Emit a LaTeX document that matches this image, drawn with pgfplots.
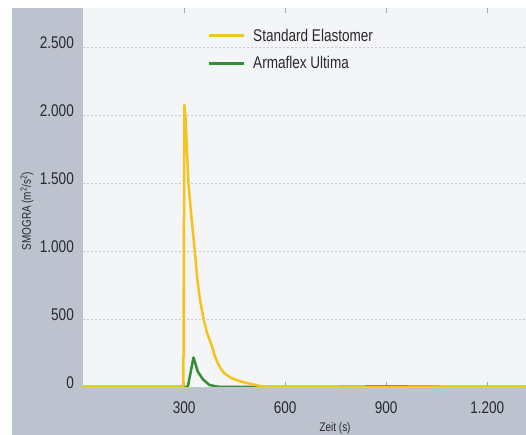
\documentclass[border=0pt]{standalone}
\usepackage{pgfplots}
\pgfplotsset{compat=1.18}
\usepackage{fontspec}
\setmainfont{Liberation Sans}[FakeStretch=0.8]
\definecolor{bggray}{RGB}{189,195,206}
\definecolor{plotbg}{RGB}{244,245,247}
\definecolor{gold}{RGB}{245,196,28}
\definecolor{leafgreen}{RGB}{52,142,52}
\definecolor{gridgray}{RGB}{200,202,206}
\definecolor{tickgray}{RGB}{165,168,175}
\definecolor{txt}{RGB}{40,40,45}
\begin{document}
\begin{tikzpicture}
\useasboundingbox (0,0) rectangle (526bp,435bp);
\fill[white] (0,0) rectangle (526bp,435bp);
\fill[bggray] (12bp,0) rectangle (526bp,427bp);
\begin{axis}[
  at={(83bp,48bp)}, anchor=south west,
  scale only axis, width=443bp, height=379bp,
  xmin=0, xmax=1315, ymin=0, ymax=2795,
  axis background/.style={fill=plotbg},
  axis line style={draw=none},
  xtick={300,600,900,1200},
  ytick={0,500,1000,1500,2000,2500},
  tick align=inside,
  major tick length=5bp,
  x tick style={draw=tickgray, line width=0.8bp},
  y tick style={draw=none},
  ymajorgrids,
  grid style={draw=gridgray, line width=1bp, dash pattern=on 1.5bp off 2.5bp},
  /pgf/number format/.cd, 1000 sep={.}, assume math mode=true,
  /pgfplots/.cd,
  tick label style={font=\fontsize{17}{18}\selectfont, text=txt},
  yticklabel style={anchor=base east, inner sep=0pt, xshift=-9bp, yshift=-1bp},
  xticklabel style={anchor=base, inner sep=0pt, yshift=-26bp},
  xlabel={Zeit (s)},
  ylabel={SMOGRA (m\textsuperscript{2}/s\textsuperscript{2})},
  label style={font=\fontsize{12.5}{14}\selectfont, text=txt},
  xlabel style={at={([yshift=-41bp]rel axis cs:0.569,0)}, anchor=center},
  ylabel style={at={([xshift=-56bp]rel axis cs:0,0.464)}, anchor=center, rotate=0},
  legend style={at={(rel axis cs:0.28,0.951)}, anchor=north west, draw=none, fill=none,
    inner sep=0pt, row sep=10bp, font=\fontsize{17}{18}\selectfont, text=txt,
    cells={anchor=west}},
  legend image code/.code={\draw[#1, line width=3.5bp] (0bp,0bp) -- (35bp,0bp); \path (41bp,0bp);},
  reverse legend,
]
\addplot[leafgreen, line width=2.5bp, line join=round] coordinates {
(0,0) (311,0) (328,218) (341,112) (356,57) (375,15) (400,2) (430,0) (700,0) (800,3) (900,5) (1000,3) (1100,1) (1315,0)
};
\addlegendentry{Armaflex Ultima}
\addplot[gold, line width=2.5bp, line join=round] coordinates {
(0,0) (298,0) (301,2080) (304,2000) (313,1500) (322,1250) (332,1000) (339,800) (347,650) (358,500) (368,400) (383,300) (391,230) (400,176) (409,135) (419,103) (440,66) (469,40) (499,22) (525,8) (550,1) (800,2) (1315,0)
};
\addlegendentry{Standard Elastomer}
\end{axis}
\end{tikzpicture}
\end{document}
